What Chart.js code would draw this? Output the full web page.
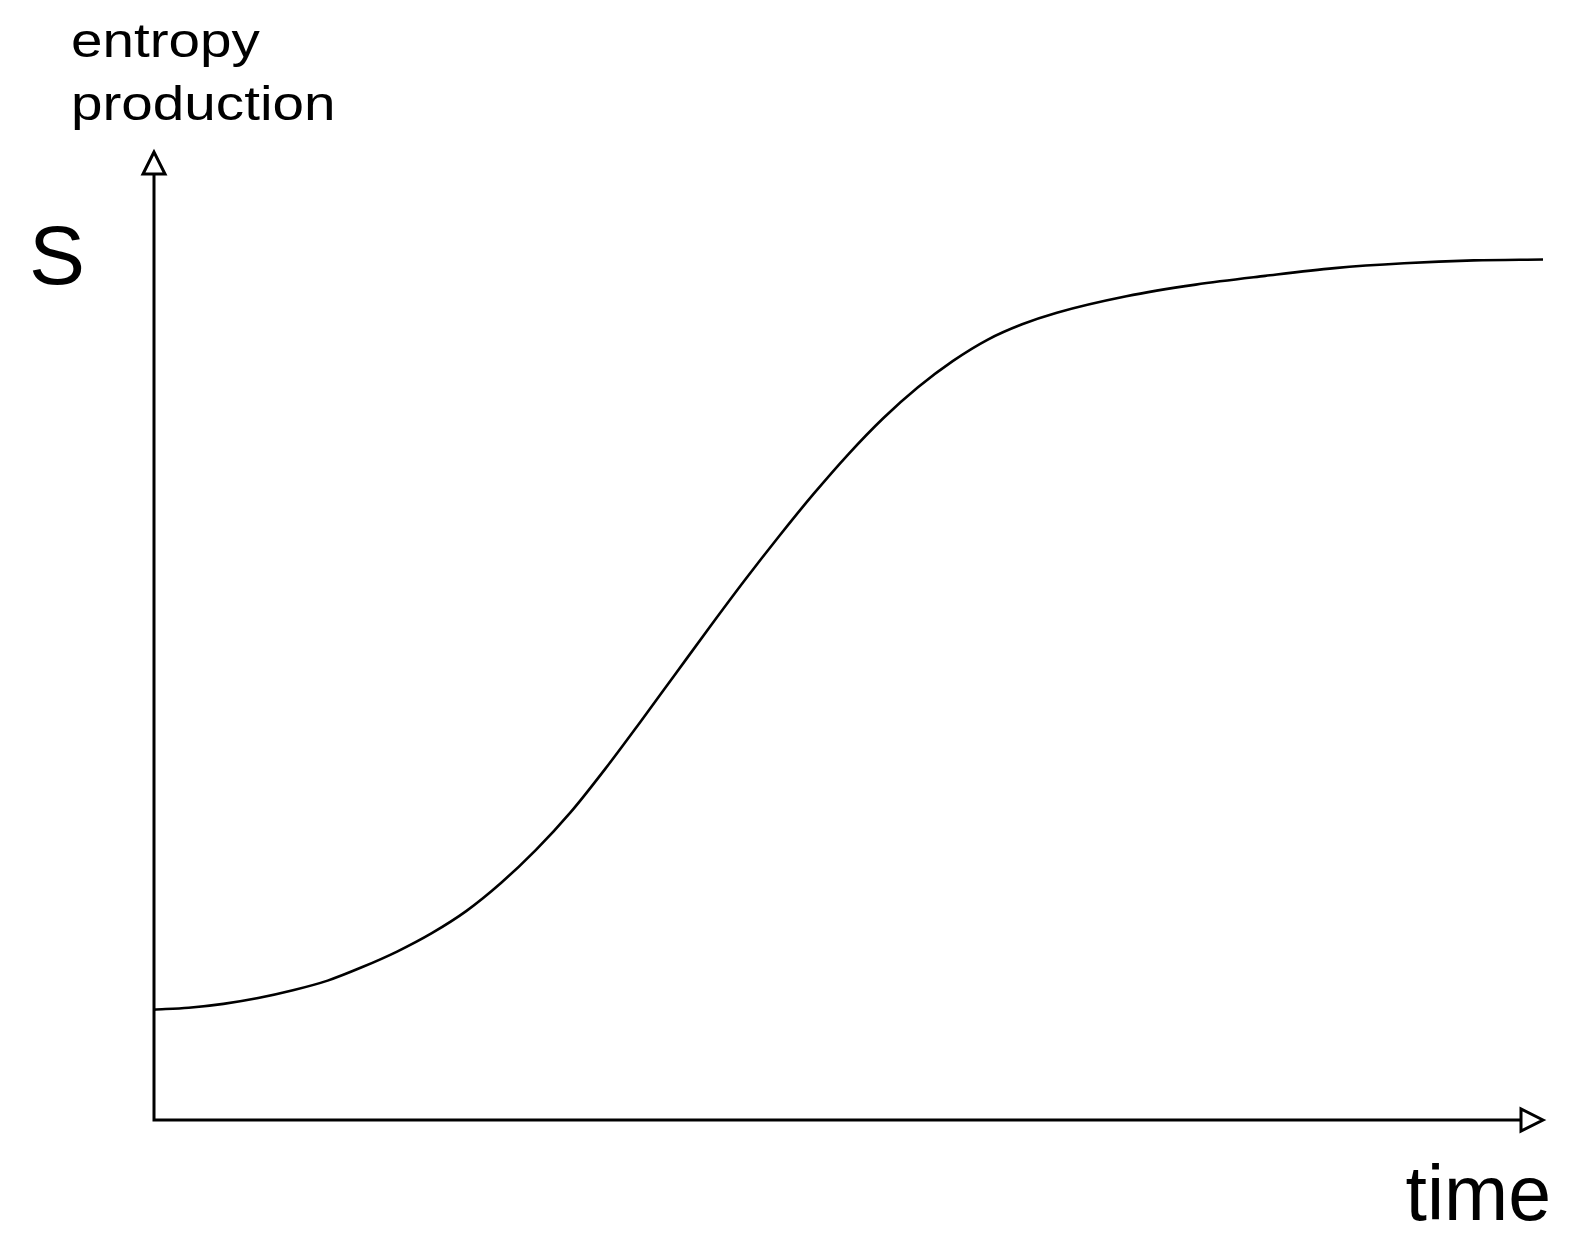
<!DOCTYPE html>
<html>
<head>
<meta charset="utf-8">
<script src="https://cdn.jsdelivr.net/npm/chart.js@4"></script>
<style>
  html, body { margin: 0; padding: 0; background: #ffffff; }
  #wrap { width: 1569px; height: 1252px; }
</style>
</head>
<body>
<div id="wrap"><canvas id="c" width="1569" height="1252"></canvas></div>
<script>
// time (arbitrary units, 0..100)
const timeValues = [0, 2.5, 5, 7.5, 10, 12.5, 15, 17.5, 20, 22.5, 25, 27.5, 30, 32.5, 35, 37.5, 40, 42.5, 45, 47.5, 50, 52.5, 55, 57.5, 60, 62.5, 65, 70, 75, 80, 85, 90, 95, 100];
// entropy production S (arbitrary units, 0..100)
const entropyValues = [11.4, 11.6, 12.0, 12.6, 13.4, 14.4, 15.8, 17.4, 19.3, 21.6, 24.5, 27.9, 31.8, 36.3, 41.1, 46.0, 50.9, 55.7, 60.3, 64.7, 68.8, 72.5, 75.7, 78.4, 80.6, 82.2, 83.4, 85.1, 86.3, 87.2, 88.0, 88.5, 88.8, 88.9];
const yAxisTitleLines = ["entropy", "production"];
const yAxisSymbol = "S";
const xAxisTitle = "time";

const FONT = '"Liberation Sans", Arial, Helvetica, sans-serif';

const axesPlugin = {
  id: 'arrowAxes',
  afterDraw(chart) {
    const ctx = chart.ctx;
    const xs = chart.scales.x, ys = chart.scales.y;
    const x0 = xs.getPixelForValue(0);
    const y0 = ys.getPixelForValue(0);
    const xTip = xs.getPixelForValue(100);
    const yTip = ys.getPixelForValue(100);
    const head = 22, half = 11;
    ctx.save();
    ctx.strokeStyle = '#000';
    ctx.lineWidth = 3;
    ctx.lineCap = 'butt';
    // axis lines
    ctx.beginPath();
    ctx.moveTo(x0, y0 + 1.5);
    ctx.lineTo(x0, yTip + head);
    ctx.moveTo(x0 - 1.5, y0);
    ctx.lineTo(xTip - head, y0);
    ctx.stroke();
    // arrowheads (hollow)
    ctx.lineJoin = 'miter';
    ctx.fillStyle = '#fff';
    ctx.beginPath();
    ctx.moveTo(x0, yTip);
    ctx.lineTo(x0 - half, yTip + head);
    ctx.lineTo(x0 + half, yTip + head);
    ctx.closePath();
    ctx.fill(); ctx.stroke();
    ctx.beginPath();
    ctx.moveTo(xTip, y0);
    ctx.lineTo(xTip - head, y0 - half);
    ctx.lineTo(xTip - head, y0 + half);
    ctx.closePath();
    ctx.fill(); ctx.stroke();
    // texts
    ctx.fillStyle = '#000';
    ctx.textBaseline = 'alphabetic';
    ctx.textAlign = 'left';
    ctx.save();
    ctx.font = '48px ' + FONT;
    ctx.translate(71, 0);
    ctx.scale(1.18, 1);
    ctx.fillText(yAxisTitleLines[0], 0, 57);
    ctx.fillText(yAxisTitleLines[1], 0, 120);
    ctx.restore();
    ctx.font = '84px ' + FONT;
    ctx.fillText(yAxisSymbol, 29, 284);
    ctx.font = '77px ' + FONT;
    ctx.textAlign = 'right';
    ctx.fillText(xAxisTitle, 1551, 1220);
    ctx.restore();
  }
};

new Chart(document.getElementById('c'), {
  type: 'line',
  data: {
    datasets: [{
      data: timeValues.map((t, i) => ({ x: t, y: entropyValues[i] })),
      borderColor: '#000',
      borderWidth: 2.6,
      pointRadius: 0,
      fill: false,
      cubicInterpolationMode: 'monotone',
      clip: false
    }]
  },
  options: {
    responsive: false,
    animation: false,
    events: [],
    layout: { padding: { left: 154, right: 26, top: 152, bottom: 132 } },
    plugins: { legend: { display: false }, tooltip: { enabled: false } },
    scales: {
      x: { type: 'linear', min: 0, max: 100, display: false },
      y: { type: 'linear', min: 0, max: 100, display: false }
    }
  },
  plugins: [axesPlugin]
});
</script>
</body>
</html>
